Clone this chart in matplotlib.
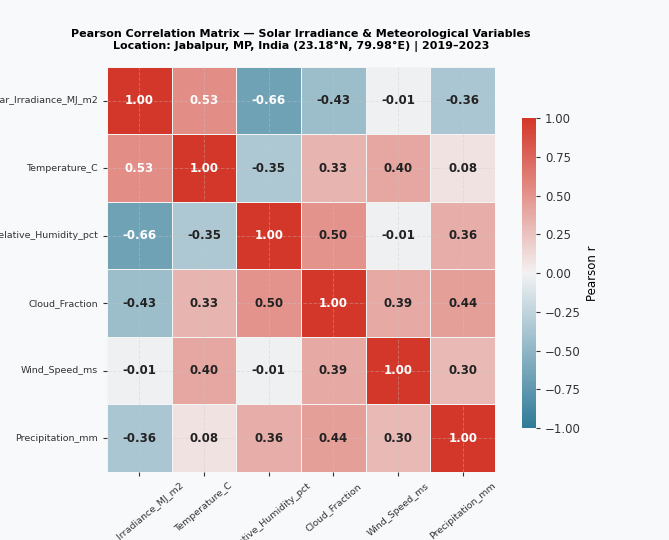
import numpy as np
import matplotlib
matplotlib.use("Agg")
import matplotlib.pyplot as plt
import seaborn as sns

variables = ["Solar_Irradiance_MJ_m2", "Temperature_C", "Relative_Humidity_pct",
             "Cloud_Fraction", "Wind_Speed_ms", "Precipitation_mm"]

# correlation coefficients, row by row
r_irradiance = [1.00, 0.53, -0.66, -0.43, -0.01, -0.36]
r_temperature = [0.53, 1.00, -0.35, 0.33, 0.40, 0.08]
r_humidity = [-0.66, -0.35, 1.00, 0.50, -0.01, 0.36]
r_cloud = [-0.43, 0.33, 0.50, 1.00, 0.39, 0.44]
r_wind = [-0.01, 0.40, -0.01, 0.39, 1.00, 0.30]
r_precip = [-0.36, 0.08, 0.36, 0.44, 0.30, 1.00]

corr = np.array([r_irradiance, r_temperature, r_humidity, r_cloud, r_wind, r_precip])

bg = "#f8f9fa"
fig = plt.figure(figsize=(6.69, 5.4), dpi=100, facecolor=bg)
ax = fig.add_axes([0.160, 0.126, 0.580, 0.750])
cax = fig.add_axes([0.780, 0.207, 0.021, 0.574])
ax.set_facecolor(bg)

cmap = sns.diverging_palette(228, 14, s=85, l=48, as_cmap=True)
sns.heatmap(corr, ax=ax, cbar_ax=cax, cmap=cmap, vmin=-1, vmax=1, center=0,
            annot=True, fmt=".2f", annot_kws={"size": 8.5, "weight": "bold"},
            linewidths=0.5, linecolor="#f4f4f4",
            xticklabels=variables, yticklabels=variables,
            cbar_kws={"label": "Pearson r"})

# light text on strong cells, dark text elsewhere
for t in ax.texts:
    t.set_color("white" if abs(float(t.get_text())) > 0.5 else "#222222")

ax.grid(True, linestyle="--", color="#c8c8c8", alpha=0.35, linewidth=0.7)
ax.tick_params(axis="both", labelsize=6.8, colors="#333333", length=3)
plt.setp(ax.get_xticklabels(), rotation=40, ha="center")
plt.setp(ax.get_yticklabels(), rotation=0)

cax.tick_params(labelsize=8.5, colors="#333333", length=3)
cax.yaxis.label.set_size(8.5)
cax.set_yticks([-1, -0.75, -0.5, -0.25, 0, 0.25, 0.5, 0.75, 1])
for s in cax.spines.values():
    s.set_visible(False)

ax.set_title("Pearson Correlation Matrix \u2014 Solar Irradiance & Meteorological Variables\n"
             "Location: Jabalpur, MP, India (23.18\u00b0N, 79.98\u00b0E) | 2019\u20132023",
             fontsize=8, fontweight="bold", pad=13)

fig.savefig("out.png", dpi=100, facecolor=bg)
